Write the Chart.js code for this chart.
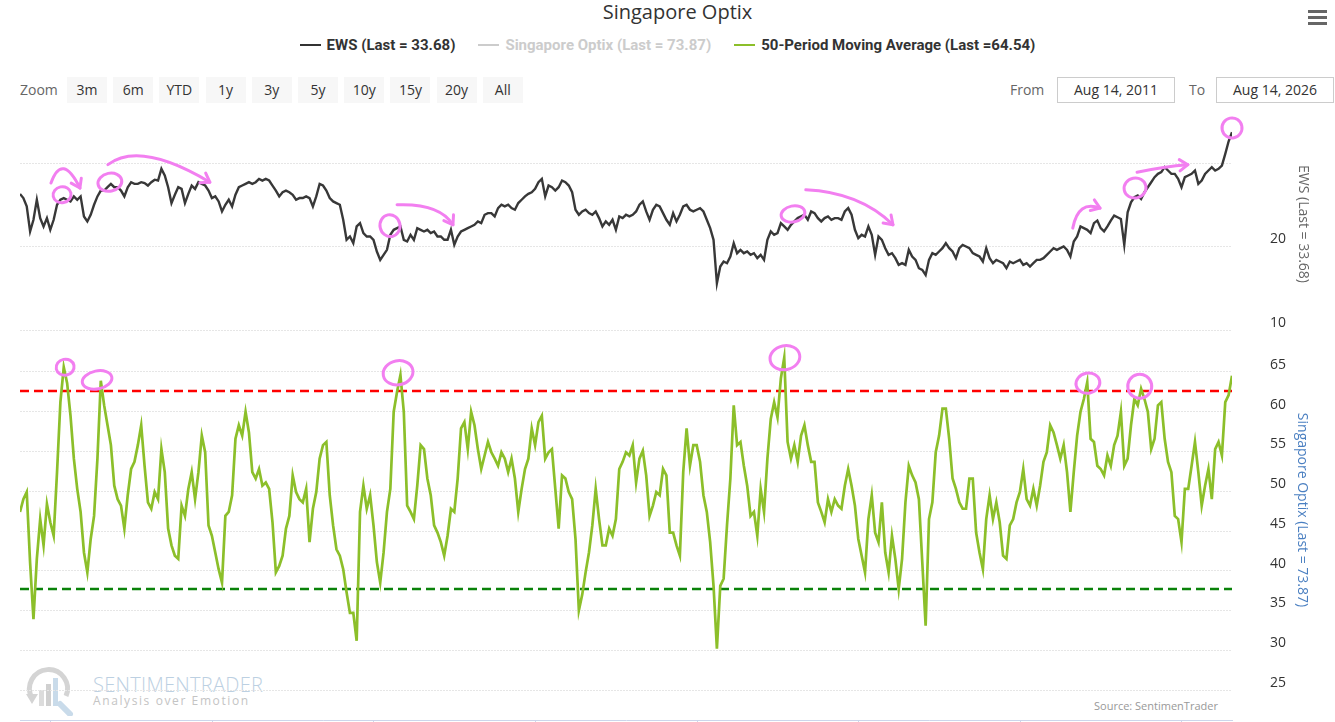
<!DOCTYPE html>
<html>
<head>
<meta charset="utf-8">
<title>Singapore Optix</title>
<script src="https://cdn.jsdelivr.net/npm/chart.js@4.4.1/dist/chart.umd.min.js"></script>
<style>
  html, body { margin: 0; padding: 0; background: #fff; overflow: hidden; }
  body { width: 1335px; height: 722px; position: relative; font-family: 'Open Sans', sans-serif; }
  #wrap { position: absolute; left: 0; top: 0; width: 1335px; height: 760px; z-index: 2; }
  .title { position: absolute; top: 0; left: 20px; width: 1315px; text-align: center; font-size: 20px; line-height: 24px; color: #333; }
  #legend { position: absolute; top: 35px; left: 0; width: 1335px; display: flex; justify-content: center; gap: 23px;
            font-family: Roboto, sans-serif; font-weight: 700; font-size: 15px; line-height: 20px; }
  #legend .item { display: flex; align-items: center; }
  #legend .sym { width: 21px; height: 2px; margin-right: 6px; }
  .lbl { position: absolute; top: 77px; height: 26px; line-height: 26px; font-size: 14px; color: #666; }
  .btn { position: absolute; top: 77px; width: 40px; height: 26px; line-height: 26px; text-align: center;
         background: #f7f7f7; font-size: 14px; color: #333; }
  .date { position: absolute; top: 77px; width: 116px; height: 24px; line-height: 24px; text-align: center;
          border: 1px solid #ccc; font-size: 14px; color: #333; }
  .menu { position: absolute; left: 1308px; width: 19px; height: 2.5px; background: #666; }
  #mark { position: absolute; left: 22px; top: 664px; z-index: 1; }
  .src { position: absolute; top: 698px; left: 1094px; font-size: 11px; color: #999; }
  #optixTitle { position: absolute; left: 1294px; top: 510px; transform: translateY(-50%); writing-mode: vertical-rl;
                font-size: 14px; line-height: 18px; color: #4a7fc1; white-space: nowrap; z-index: 3; }
</style>
</head>
<body>
<div class="title">Singapore Optix</div>
<div id="legend"></div>
<div class="menu" style="top:10px"></div>
<div class="menu" style="top:16px"></div>
<div class="menu" style="top:22px"></div>
<div class="lbl" style="left:20px">Zoom</div>
<div id="zoomBtns"></div>
<div class="lbl" style="left:1010px">From</div>
<div class="date" style="left:1057px">Aug 14, 2011</div>
<div class="lbl" style="left:1189px">To</div>
<div class="date" style="left:1216px">Aug 14, 2026</div>

<svg id="mark" width="260" height="52" viewBox="0 0 260 52">
  <path d="M10 34 A19 19 0 1 1 44 32" fill="none" stroke="#d4d4d4" stroke-width="5"/>
  <path d="M4 30 L10 40 L16 30 Z" fill="#d4d4d4"/>
  <rect x="17" y="26" width="5" height="16" fill="#dcdcdc"/>
  <rect x="24" y="20" width="5" height="22" fill="#d0d0d0"/>
  <rect x="31" y="14" width="5" height="28" fill="#c9dbea"/>
  <path d="M38 40 L48 50" stroke="#c9dbea" stroke-width="6" stroke-linecap="round"/>
  <text x="71" y="28" font-family="Open Sans" font-weight="300" font-size="20" fill="#bcd0e2" letter-spacing="0.3">SENTIMENTRADER</text>
  <text x="71" y="41" font-family="Open Sans" font-size="12" fill="#c4c4c4" letter-spacing="1.6">Analysis over Emotion</text>
</svg>
<div class="src">Source: SentimenTrader</div>

<div id="wrap"><canvas id="optixChart"></canvas></div>
<div id="optixTitle"></div>

<script>
// EWS closing price, half-monthly, Aug 2011 -> Aug 2026
var ews = [
  26.3, 25.8, 24.8, 21.8, 23.2, 25.6, 23.4, 22.4, 23.4, 22.0,
  23.2, 25.0, 25.6, 25.8, 25.6, 25.4, 26.0, 25.6, 26.0, 23.6,
  23.0, 23.8, 25.0, 26.0, 26.7, 26.7, 27.1, 27.5, 27.1, 27.1,
  26.7, 26.0, 27.1, 27.7, 27.5, 27.5, 27.7, 27.6, 27.3, 27.7,
  28.0, 27.9, 29.3, 28.5, 27.1, 25.2, 26.2, 27.1, 26.9, 25.2,
  26.3, 27.3, 26.9, 27.7, 27.5, 27.3, 26.7, 25.8, 26.0, 25.4,
  24.2, 25.0, 25.6, 24.8, 26.2, 27.1, 27.3, 27.5, 27.7, 27.5,
  27.7, 28.1, 27.9, 28.1, 27.9, 27.3, 26.7, 26.0, 26.5, 26.7,
  26.5, 26.2, 25.6, 25.8, 25.8, 26.0, 25.8, 24.8, 26.0, 27.5,
  27.3, 26.7, 25.8, 25.4, 25.2, 25.0, 23.2, 20.8, 21.2, 20.4,
  22.4, 22.8, 21.6, 21.2, 21.2, 20.8, 19.4, 18.4, 19.0, 19.6,
  21.4, 22.0, 22.2, 22.4, 20.8, 20.6, 21.4, 20.8, 22.2, 22.0,
  21.8, 22.0, 21.6, 21.8, 21.2, 21.2, 20.8, 20.8, 22.0, 20.2,
  21.2, 21.8, 22.0, 22.2, 22.4, 22.6, 23.0, 22.8, 23.8, 24.0,
  24.0, 23.6, 24.6, 25.0, 24.8, 25.0, 24.6, 24.4, 25.2, 25.6,
  26.0, 26.3, 26.5, 26.9, 27.7, 28.1, 26.0, 27.3, 27.1, 26.7,
  27.1, 27.9, 27.7, 27.3, 26.5, 24.4, 23.8, 24.2, 24.4, 24.0,
  23.8, 24.2, 23.4, 22.4, 23.0, 22.6, 23.2, 22.0, 23.6,
  23.4, 23.8, 23.6, 23.8, 24.2, 25.0, 25.4, 24.2, 23.2, 24.4,
  25.0, 24.8, 24.0, 23.2, 22.6, 24.0, 23.0, 23.8, 24.8, 25.0,
  24.4, 24.2, 24.4, 24.6, 24.2, 23.2, 22.2, 20.8, 15.6, 17.6,
  18.2, 18.0, 18.8, 20.4, 19.2, 19.6, 19.2, 19.4, 19.0, 19.2,
  18.6, 19.0, 18.4, 20.8, 21.8, 21.4, 21.6, 22.8, 22.4, 22.0,
  22.6, 23.0, 23.4, 23.6, 23.8, 23.2, 24.2, 24.0, 23.4, 23.0,
  23.4, 23.6, 23.2, 23.4, 23.4, 23.2, 24.2, 24.6, 23.8, 22.0,
  21.0, 21.4, 21.2, 22.4, 21.4, 19.0, 21.2, 20.8, 19.8, 19.0,
  19.2, 18.6, 17.8, 18.0, 17.8, 19.6, 18.8, 18.4, 17.4,
  17.2, 16.6, 18.4, 19.2, 19.0, 19.4, 19.8, 20.4, 19.8, 19.4,
  18.6, 19.8, 20.2, 20.0, 19.8, 19.2, 19.0, 18.8, 18.2, 19.8,
  18.6, 18.0, 18.4, 18.2, 18.0, 17.4, 18.2, 18.0, 18.2, 18.4,
  17.8, 18.0, 17.6, 18.0, 18.4, 18.4, 18.6, 19.0, 19.4, 19.8,
  19.6, 19.8, 20.0, 19.6, 18.8, 20.6, 21.2, 22.4, 22.2, 22.0,
  21.6, 22.8, 23.1, 22.2, 21.8, 22.4, 23.1, 23.7, 23.5, 23.3,
  20.2, 24.1, 25.3, 25.9, 26.1, 25.7, 26.5, 27.1, 27.7, 28.3,
  28.7, 28.9, 29.5, 29.1, 28.7, 28.7, 28.1, 27.1, 28.3, 28.5,
  28.7, 29.1, 27.5, 27.9, 28.7, 29.1, 29.5, 29.1, 29.3, 29.7,
  31.1, 32.6, 33.68
];

// Singapore Optix, 50-period moving average, same dates
var optixMA = [
  47.4, 49.0, 49.9, 41.0, 33.9, 41.5, 46.5, 43.2, 48.4, 46.1,
  44.4, 52.4, 61.2, 65.6, 63.6, 59.5, 54.1, 50.3, 47.4, 42.3,
  39.8, 44.0, 46.9, 54.1, 63.9, 60.8, 58.3, 55.8, 50.7, 49.0,
  48.2, 45.3, 49.5, 52.8, 53.7, 55.8, 58.3, 53.2, 48.6, 47.8,
  49.9, 49.0, 55.3, 52.4, 45.3, 43.2, 41.9, 41.5, 48.2, 46.9,
  50.3, 52.4, 49.0, 52.4, 57.0, 54.9, 45.7, 44.4, 42.3, 40.2,
  38.5, 46.9, 47.4, 49.5, 56.6, 58.3, 57.0, 60.0, 57.4, 52.4,
  51.6, 52.8, 50.7, 51.1, 50.3, 46.1, 39.8, 40.6, 41.9, 45.3,
  46.9, 52.0, 49.9, 49.0, 48.6, 50.3, 43.6, 47.8, 49.9, 54.1,
  55.8, 56.2, 49.5, 45.7, 42.7, 41.9, 40.2, 37.3, 34.7, 34.7,
  31.2, 47.4, 50.7, 47.8, 49.5, 45.7, 41.1, 38.5, 42.3, 47.4,
  50.3, 60.0, 62.5, 64.6, 60.0, 48.2, 47.4, 46.5, 50.7, 55.8,
  55.3, 51.6, 49.5, 45.7, 44.8, 43.6, 41.9, 44.4, 47.8, 47.4,
  51.6, 57.9, 58.7, 55.3, 60.0, 58.3, 55.3, 52.8, 54.5, 56.2,
  54.9, 54.1, 53.2, 54.9, 54.1, 52.4, 54.1, 51.6, 47.4, 50.3,
  52.8, 54.1, 57.9, 55.8, 58.7, 59.5, 54.1, 54.9, 55.3, 50.3,
  45.3, 52.0, 51.6, 49.9, 49.0, 44.0, 35.0, 37.0, 39.8, 42.3,
  45.7, 50.3, 46.5, 43.2, 43.2, 45.3, 44.4, 46.5, 52.8,
  53.7, 54.9, 54.5, 55.8, 51.1, 54.1, 55.1, 52.0, 46.9, 48.2,
  49.9, 49.5, 52.8, 52.0, 44.8, 44.8, 43.2, 41.9, 52.4, 57.9,
  53.2, 55.8, 55.8, 53.7, 49.5, 47.4, 43.6, 38.1, 30.2, 38.1,
  39.0, 45.7, 51.6, 60.8, 55.8, 56.2, 53.2, 50.7, 46.9, 47.4,
  44.4, 50.3, 47.4, 54.1, 59.1, 61.2, 59.3, 64.2, 66.8, 56.2,
  54.1, 55.8, 53.7, 57.0, 58.3, 55.8, 53.7, 53.7, 48.6, 47.4,
  46.1, 49.0, 47.4, 49.0, 48.2, 47.8, 50.7, 52.8, 50.7, 48.2,
  44.0, 41.9, 39.8, 46.5, 49.5, 44.8, 43.6, 48.6, 42.3, 39.8,
  44.4, 41.5, 37.7, 41.5, 48.6, 53.2, 52.0, 51.1, 49.0,
  41.1, 33.1, 46.5, 48.6, 54.9, 57.0, 60.4, 60.4, 56.6, 51.6,
  50.3, 48.6, 47.8, 47.8, 51.6, 51.6, 44.8, 42.3, 40.2, 46.5,
  49.5, 46.5, 48.6, 46.1, 41.9, 41.5, 45.7, 46.5, 48.6, 49.9,
  52.8, 49.0, 48.2, 50.3, 48.2, 50.7, 53.7, 54.9, 58.3, 57.4,
  55.8, 54.1, 55.8, 52.4, 47.4, 52.4, 57.0, 60.0, 61.6, 63.7,
  56.6, 56.2, 53.2, 52.8, 52.0, 54.5, 53.2, 55.8, 57.0, 60.0,
  53.2, 54.1, 58.3, 61.6, 60.8, 62.9, 61.6, 60.0, 55.3, 56.6,
  60.8, 61.2, 56.6, 53.7, 52.4, 46.9, 46.5, 43.6, 50.3, 50.3,
  53.2, 56.2, 52.4, 48.2, 50.7, 52.8, 49.0, 55.3, 56.2, 54.5,
  61.2, 62.1, 64.54
];

var optixLast = 73.87;      // hidden series, only shown in legend / axis title
var optixUpper = 62.6;      // red dashed band
var optixLower = 37.7;      // green dashed band

var ewsTicks = [10, 20, 30];
var optixTicks = [25, 30, 35, 40, 45, 50, 55, 60, 65];
var yearTicks = [2012, 2014, 2016, 2018, 2020, 2022, 2024, 2026];

// sample dates as decimal years (Aug 14, 2011 start, two samples a month)
var startYear = 2011.619;
var perYear = 24;
var dates = ews.map(function (v, i) { return startYear + i / perYear; });
var endYear = dates[dates.length - 1];

// hand-drawn pink marks, placed in sample index / value units
var penCircles = [
  { axis: 'y1', i: 12.5, v: 26.2, rx: 9, ry: 8 },
  { axis: 'y1', i: 26.7, v: 27.7, rx: 12, ry: 9 },
  { axis: 'y1', i: 109.9, v: 22.5, rx: 10, ry: 11 },
  { axis: 'y1', i: 229.6, v: 23.9, rx: 12, ry: 8 },
  { axis: 'y1', i: 331.2, v: 27.0, rx: 11, ry: 10 },
  { axis: 'y1', i: 360.0, v: 34.2, rx: 10, ry: 10 },
  { axis: 'y2', i: 13.4, v: 65.6, rx: 9, ry: 8 },
  { axis: 'y2', i: 22.9, v: 64.0, rx: 15, ry: 9 },
  { axis: 'y2', i: 112.3, v: 64.9, rx: 15, ry: 12 },
  { axis: 'y2', i: 227.2, v: 66.8, rx: 15, ry: 12 },
  { axis: 'y2', i: 317.2, v: 63.6, rx: 12, ry: 10 },
  { axis: 'y2', i: 332.6, v: 63.2, rx: 12, ry: 12 }
];
var penArrows = [
  { axis: 'y1', from: [9.2, 27.6], via: [12.5, 31.3], to: [17.8, 27.0] },
  { axis: 'y1', from: [26.1, 29.8], via: [35.6, 32.7], to: [56.4, 27.7] },
  { axis: 'y1', from: [112.0, 25.0], via: [124.7, 25.2], to: [128.6, 22.6] },
  { axis: 'y1', from: [233.4, 26.8], via: [249.5, 26.5], to: [259.3, 22.6] },
  { axis: 'y1', from: [312.7, 22.2], via: [314.3, 25.6], to: [320.8, 24.6] },
  { axis: 'y1', from: [331.8, 28.9], via: [340.0, 29.6], to: [346.9, 29.8] }
];

// legend
var legendItems = [
  { text: 'EWS (Last = ' + ews[ews.length - 1].toFixed(2) + ')', color: '#333333', textColor: '#333333' },
  { text: 'Singapore Optix (Last = ' + optixLast.toFixed(2) + ')', color: '#cccccc', textColor: '#cccccc' },
  { text: '50-Period Moving Average (Last =' + optixMA[optixMA.length - 1].toFixed(2) + ')', color: '#8cbf2a', textColor: '#333333' }
];
var legend = document.getElementById('legend');
legendItems.forEach(function (it) {
  var d = document.createElement('div');
  d.className = 'item';
  d.innerHTML = '<span class="sym" style="background:' + it.color + '"></span><span style="color:' + it.textColor + '">' + it.text + '</span>';
  legend.appendChild(d);
});
document.getElementById('optixTitle').textContent = 'Singapore Optix (Last = ' + optixLast.toFixed(2) + ')';

var zoomLabels = ['3m', '6m', 'YTD', '1y', '3y', '5y', '10y', '15y', '20y', 'All'];
var zb = document.getElementById('zoomBtns');
zoomLabels.forEach(function (t, k) {
  var b = document.createElement('div');
  b.className = 'btn';
  b.style.left = (67 + k * 46.2) + 'px';
  b.textContent = t;
  zb.appendChild(b);
});

function xy(values) {
  return values.map(function (v, i) { return { x: dates[i], y: v }; });
}
function flat(v) {
  return [{ x: startYear, y: v }, { x: endYear, y: v }];
}
function toYear(i) { return startYear + i / perYear; }

var penMarks = {
  id: 'penMarks',
  afterDatasetsDraw: function (chart) {
    var ctx = chart.ctx, sx = chart.scales.x;
    ctx.save();
    ctx.strokeStyle = '#f27ff0';
    ctx.lineWidth = 3;
    ctx.lineCap = 'round';
    ctx.lineJoin = 'round';
    penCircles.forEach(function (c) {
      var s = chart.scales[c.axis];
      ctx.beginPath();
      ctx.ellipse(sx.getPixelForValue(toYear(c.i)), s.getPixelForValue(c.v), c.rx, c.ry, -0.2, 0, Math.PI * 2);
      ctx.stroke();
    });
    penArrows.forEach(function (a) {
      var s = chart.scales[a.axis];
      var x0 = sx.getPixelForValue(toYear(a.from[0])), y0 = s.getPixelForValue(a.from[1]);
      var cx = sx.getPixelForValue(toYear(a.via[0])), cy = s.getPixelForValue(a.via[1]);
      var x1 = sx.getPixelForValue(toYear(a.to[0])), y1 = s.getPixelForValue(a.to[1]);
      ctx.beginPath();
      ctx.moveTo(x0, y0);
      ctx.quadraticCurveTo(cx, cy, x1, y1);
      ctx.stroke();
      var ang = Math.atan2(y1 - cy, x1 - cx);
      ctx.beginPath();
      ctx.moveTo(x1 - 10 * Math.cos(ang - 0.6), y1 - 10 * Math.sin(ang - 0.6));
      ctx.lineTo(x1, y1);
      ctx.lineTo(x1 - 10 * Math.cos(ang + 0.6), y1 - 10 * Math.sin(ang + 0.6));
      ctx.stroke();
    });
    ctx.restore();
  }
};

Chart.defaults.font.family = "'Open Sans', sans-serif";
Chart.defaults.font.size = 14;
Chart.defaults.color = '#333333';

var ctx = document.getElementById('optixChart').getContext('2d');
var optixChart = new Chart(ctx, {
  type: 'line',
  data: {
    datasets: [{
      label: 'EWS',
      data: xy(ews),
      yAxisID: 'y1',
      borderColor: '#383838',
      borderWidth: 2.4,
      pointRadius: 0
    }, {
      label: '50-Period Moving Average',
      data: xy(optixMA),
      yAxisID: 'y2',
      borderColor: '#8cbf2a',
      borderWidth: 2.7,
      pointRadius: 0
    }, {
      label: 'Upper',
      data: flat(optixUpper),
      yAxisID: 'y2',
      borderColor: '#ff0000',
      borderWidth: 2.5,
      borderDash: [9, 5],
      pointRadius: 0
    }, {
      label: 'Lower',
      data: flat(optixLower),
      yAxisID: 'y2',
      borderColor: '#0a820a',
      borderWidth: 2.5,
      borderDash: [9, 5],
      pointRadius: 0
    }]
  },
  options: {
    responsive: true,
    maintainAspectRatio: false,
    animation: false,
    layout: { padding: { left: 20, top: 118, right: 0, bottom: 0 } },
    plugins: { legend: { display: false }, tooltip: { enabled: false } },
    elements: { line: { tension: 0 } },
    scales: {
      x: {
        type: 'linear',
        min: startYear,
        max: endYear,
        afterBuildTicks: function (s) { s.ticks = yearTicks.map(function (v) { return { value: v }; }); },
        afterFit: function (s) { s.height = 40; },
        ticks: { callback: function (v) { return String(v); }, color: '#666' },
        grid: { drawOnChartArea: false, drawTicks: true, tickLength: 10, color: '#ccd6eb' },
        border: { display: true, color: '#ccd6eb' }
      },
      y1: {
        type: 'linear',
        position: 'right',
        stack: 'panes',
        stackWeight: 212,
        min: 10,
        max: 35.39,
        afterBuildTicks: function (s) { s.ticks = ewsTicks.map(function (v) { return { value: v }; }); },
        afterFit: function (s) { s.width = 103; },
        ticks: {
          padding: 2,
          labelOffset: -7,
          callback: function (v) { return v === 30 ? '' : String(v); }
        },
        grid: { color: '#e6e6e6', drawTicks: true, tickLength: 36, tickColor: 'rgba(0,0,0,0)' },
        border: { display: false, dash: [2, 1] },
        title: { display: true, text: 'EWS (Last = ' + ews[ews.length - 1].toFixed(2) + ')', color: '#666', padding: { top: 24, bottom: 0 }, font: { size: 14 } }
      },
      y2: {
        type: 'linear',
        position: 'right',
        stack: 'panes',
        stackWeight: 390,
        min: 21.23,
        max: 70.28,
        afterBuildTicks: function (s) { s.ticks = optixTicks.map(function (v) { return { value: v }; }); },
        afterFit: function (s) { s.width = 103; },
        ticks: { padding: 2, labelOffset: -7 },
        grid: { color: '#e6e6e6', drawTicks: true, tickLength: 36, tickColor: 'rgba(0,0,0,0)' },
        border: { display: false, dash: [2, 1] },
        title: { display: false }
      }
    }
  },
  plugins: [penMarks]
});
</script>
</body>
</html>
